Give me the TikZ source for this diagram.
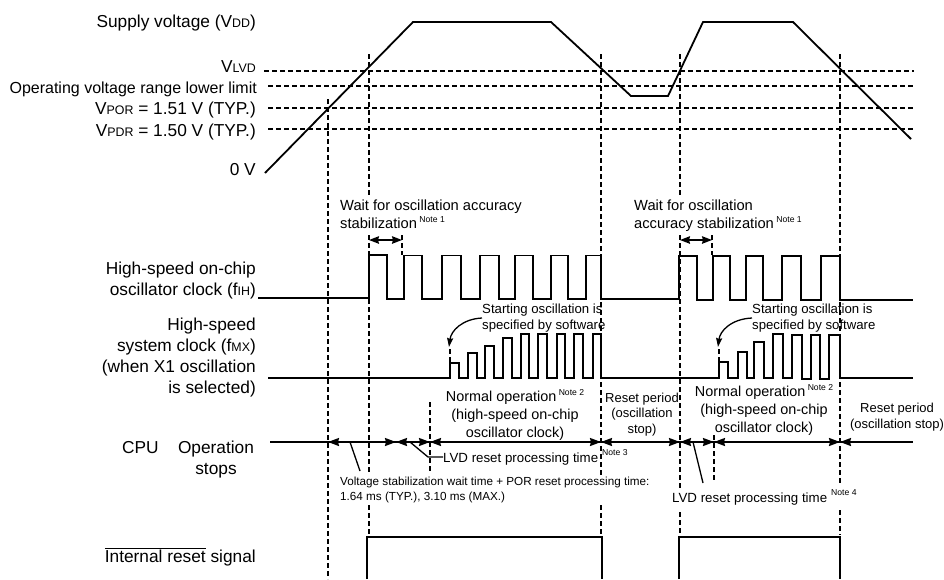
\documentclass[tikz,border=0pt]{standalone}
\usepackage{fontspec}
\setmainfont{Liberation Sans}
\usetikzlibrary{arrows.meta}
\newcommand{\lowcap}[1]{{\fontsize{12.4}{10}\selectfont #1}}
\newcommand{\notemark}[1]{\,\raisebox{5.5pt}{\fontsize{8.6}{8}\selectfont Note #1}}
\tikzset{
    sigline/.style={line width=1.8pt, line join=miter},
    guide/.style={line width=1.7pt, dash pattern=on 5pt off 3pt},
    level/.style={line width=1.7pt, dash pattern=on 5.2pt off 2.8pt},
    leader/.style={line width=1.3pt},
    tip/.style={line width=1.8pt, -{Stealth[length=11pt,width=8pt,inset=1pt]}},
    twotip/.style={line width=1.4pt, {Stealth[length=10pt,width=7.5pt,inset=1pt]}-{Stealth[length=10pt,width=7.5pt,inset=1pt]}},
    sidelabel/.style={font=\fontsize{17.3}{21}\selectfont, align=right, anchor=base east, inner sep=0pt},
    midlabel/.style={font=\fontsize{14.4}{18}\selectfont, align=center, anchor=base, inner sep=0pt},
    leftlabel/.style={font=\fontsize{13.3}{18}\selectfont, align=left, anchor=base west, inner sep=0pt},
    softlabel/.style={font=\fontsize{13.2}{16}\selectfont, align=left, anchor=base west, inner sep=0pt},
    waitlabel/.style={font=\fontsize{14.7}{18}\selectfont, align=left, anchor=base west, inner sep=0pt},
    finelabel/.style={font=\fontsize{11.7}{14.5}\selectfont, align=left, anchor=base west, inner sep=0pt},
    notelabel/.style={font=\fontsize{8.6}{8}\selectfont, anchor=base west, inner sep=0pt}
}
\begin{document}
\begin{tikzpicture}[x=1pt, y=-1pt]
    \useasboundingbox (0,0) rectangle (944,579);
    % labels on the left
    \node[sidelabel] (vdd) at (256,27) {Supply voltage (V\lowcap{DD})};
    \node[sidelabel] (vlvd) at (256,72) {V\lowcap{LVD}};
    \node[sidelabel, font=\fontsize{16}{21}\selectfont] (oplim) at (257,93) {Operating voltage range lower limit};
    \node[sidelabel] (vpor) at (256,114) {V\lowcap{POR} = 1.51 V (TYP.)};
    \node[sidelabel] (vpdr) at (256,136) {V\lowcap{PDR} = 1.50 V (TYP.)};
    \node[sidelabel] (zerov) at (256,175) {0 V};
    \node[sidelabel] (fih) at (256,295) {High-speed on-chip\\oscillator clock (f\lowcap{IH})};
    \node[sidelabel] (fmx) at (256,393) {High-speed\\system clock (f\lowcap{MX})\\(when X1 oscillation\\is selected)};
    \node[sidelabel, anchor=base west] (cpu) at (122,453) {CPU};
    \node[sidelabel, anchor=base, align=center] (opstop) at (216,474) {Operation\\stops};
    \node[sidelabel] (intreset) at (256,562) {$\overline{\mbox{Internal reset}}$ signal};
    % supply voltage and its levels
    \draw[level] (264,71) -- (914,71);
    \draw[level] (268,86) -- (914,86);
    \draw[level] (268,108) -- (914,108);
    \draw[level] (268,129) -- (914,129);
    \draw[sigline] (265,173) -- (413,22) -- (551,22) -- (631,96) -- (668,96) -- (703,22) -- (793,22) -- (911,139);
    % vertical markers
    \draw[guide] (328,99) -- (328,579);
    \draw[guide] (369,54) -- (369,195);
    \draw[guide] (369,235) -- (369,473);
    \draw[guide] (369,505) -- (369,535);
    \draw[guide] (601,54) -- (601,475);
    \draw[guide] (601,505) -- (601,535);
    \draw[guide] (680,54) -- (680,195);
    \draw[guide] (680,235) -- (680,488);
    \draw[guide] (680,512) -- (680,535);
    \draw[guide] (840,54) -- (840,485);
    \draw[guide] (840,510) -- (840,535);
    \draw[guide] (430,402) -- (430,473);
    \draw[guide] (714,435) -- (714,480);
    \draw[guide] (402,235) -- (402,255);
    \draw[guide] (712,235) -- (712,255);
    \draw[guide] (450,349) -- (450,378);
    \draw[guide] (719,349) -- (719,378);
    % wait for oscillation accuracy
    \node[waitlabel] (waita) at (340,228) {Wait for oscillation accuracy\\stabilization\notemark{1}};
    \node[waitlabel] (waitb) at (634,228) {Wait for oscillation\\accuracy stabilization\notemark{1}};
    \draw[twotip] (369,240) -- (402,240);
    \draw[twotip] (680,240) -- (712,240);
    % high-speed on-chip oscillator clock
    \draw[sigline] (258,298) -- (369,298) -- (369,255) -- (387,255) -- (387,299) -- (404,299) -- (404,255.5) -- (422,255.5) -- (422,299) -- (442,299) -- (442,255.5) -- (461,255.5) -- (461,299) -- (480,299) -- (480,255.5) -- (499,255.5) -- (499,299) -- (515,299) -- (515,255.5) -- (533,255.5) -- (533,299) -- (551,299) -- (551,255.5) -- (568,255.5) -- (568,299) -- (586,299) -- (586,255.5) -- (601,255.5) -- (601,299) -- (679,299) -- (679,256) -- (697,256) -- (697,300) -- (713,300) -- (713,256) -- (730,256) -- (730,300) -- (746,300) -- (746,256) -- (763,256) -- (763,300) -- (782,300) -- (782,256) -- (801,256) -- (801,300) -- (821,300) -- (821,256) -- (840,256) -- (840,300) -- (913,300);
    % high-speed system clock
    \draw[sigline] (268,378) -- (450,378) -- (450,363) -- (459,363) -- (459,378) -- (468,378) -- (468,353) -- (477,353) -- (477,378) -- (485,378) -- (485,346) -- (494,346) -- (494,378) -- (503,378) -- (503,338) -- (512,338) -- (512,378) -- (521,378) -- (521,334) -- (529,334) -- (529,378) -- (538,378) -- (538,334) -- (547,334) -- (547,378) -- (557,378) -- (557,334) -- (565,334) -- (565,378) -- (574,378) -- (574,334) -- (583,334) -- (583,378) -- (593,378) -- (593,334) -- (601,334) -- (601,378) -- (719,378) -- (719,362) -- (728,362) -- (728,378) -- (738,378) -- (738,352) -- (747,352) -- (747,378) -- (754,378) -- (754,342) -- (764,342) -- (764,378) -- (773,378) -- (773,334) -- (783,334) -- (783,378) -- (792,378) -- (792,335) -- (802,335) -- (802,379) -- (811,379) -- (811,335) -- (820,335) -- (820,379) -- (829,379) -- (829,335) -- (840,335) -- (840,378) -- (913,378);
    \node[softlabel] (starta) at (482,329) {Starting oscillation is\\specified by software};
    \node[softlabel] (startb) at (752,329) {Starting oscillation is\\specified by software};
    \coordinate (curvea) at (449,347);
    \coordinate (curveb) at (718,347);
    \draw[leader, -{Stealth[length=9pt,width=6pt,inset=1pt]}] (starta.west |- 0,318) .. controls (462,319) and (451,331) .. (curvea);
    \draw[leader, -{Stealth[length=9pt,width=6pt,inset=1pt]}] (startb.west |- 0,318) .. controls (731,319) and (720,331) .. (curveb);
    % cpu timeline
    \draw[sigline] (270,442) -- (913,442);
    \draw[tip] (345,442) -- (328,442);
    \draw[tip] (380,442) -- (396,442);
    \draw[tip] (412,442) -- (396,442);
    \draw[tip] (414,442) -- (430,442);
    \draw[tip] (446,442) -- (430,442);
    \draw[tip] (585,442) -- (601,442);
    \draw[tip] (617,442) -- (601,442);
    \draw[tip] (664,442) -- (680,442);
    \draw[tip] (696,442) -- (680,442);
    \draw[tip] (698,442) -- (714,442);
    \draw[tip] (730,442) -- (714,442);
    \draw[tip] (824,442) -- (840,442);
    \draw[tip] (856,442) -- (840,442);
    \node[midlabel] (normala) at (515,437) {Normal operation\notemark{2}\\(high-speed on-chip\\oscillator clock)};
    \node[midlabel] (normalb) at (764,432) {Normal operation\notemark{2}\\(high-speed on-chip\\oscillator clock)};
    \node[midlabel, font=\fontsize{13}{15.2}\selectfont] (reseta) at (642,433) {Reset period\\(oscillation\\stop)};
    \node[midlabel, font=\fontsize{13}{15.2}\selectfont] (resetb) at (897,428) {Reset period\\(oscillation stop)};
    \node[leftlabel] (lvda) at (443,462) {LVD reset processing time};
    \node[notelabel] (notea) at (602,455) {Note 3};
    \node[leftlabel] (lvdb) at (672,502) {LVD reset processing time};
    \node[notelabel] (noteb) at (831,495) {Note 4};
    \node[finelabel] (stabwait) at (340,500) {Voltage stabilization wait time + POR reset processing time:\\1.64 ms (TYP.), 3.10 ms (MAX.)};
    \coordinate (stabfoot) at (360,471);
    \coordinate (lvdfoot) at (703,483);
    \coordinate (lvdbend) at (428,457);
    \draw[leader] (350,442) -- (stabfoot);
    \draw[leader] (410,442) -- (lvdbend) -- (lvda.west |- lvdbend);
    \draw[leader] (693,442) -- (lvdfoot);
    % internal reset signal
    \draw[line width=1.5pt] (367,579) -- (367,537) -- (602,537) -- (602,579);
    \draw[line width=1.5pt] (679,579) -- (679,537) -- (840,537) -- (840,579);
\end{tikzpicture}
\end{document}
